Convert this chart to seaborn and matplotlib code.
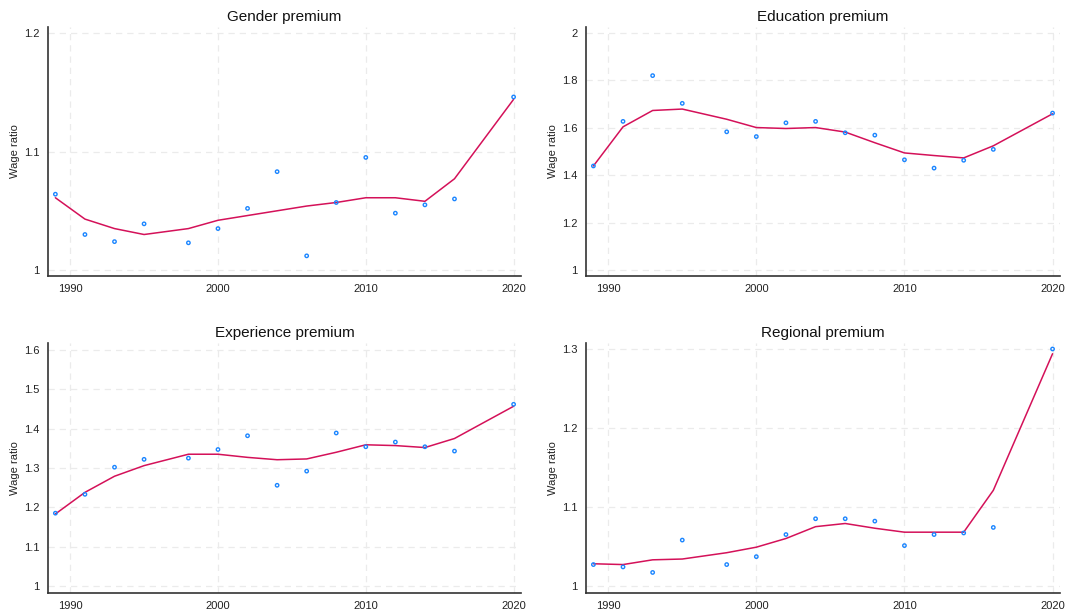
import numpy as np
import pandas as pd
import seaborn as sns
import matplotlib.pyplot as plt

# Survey years
years = [1989, 1991, 1993, 1995, 1998, 2000, 2002, 2004, 2006, 2008, 2010, 2012, 2014, 2016, 2020]

# Observed wage ratios (dots) and smoothed fit (line) for each premium
gender_obs = [1.064, 1.030, 1.024, 1.039, 1.023, 1.035, 1.052, 1.083, 1.012, 1.057, 1.095, 1.048, 1.055, 1.060, 1.146]
gender_fit = [1.061, 1.043, 1.035, 1.030, 1.035, 1.042, 1.046, 1.050, 1.054, 1.057, 1.061, 1.061, 1.058, 1.077, 1.144]

educ_obs = [1.439, 1.627, 1.820, 1.703, 1.583, 1.563, 1.621, 1.627, 1.579, 1.569, 1.465, 1.430, 1.463, 1.509, 1.662]
educ_fit = [1.439, 1.604, 1.673, 1.679, 1.636, 1.601, 1.597, 1.601, 1.582, 1.537, 1.494, 1.483, 1.473, 1.524, 1.659]

exper_obs = [1.185, 1.233, 1.302, 1.322, 1.325, 1.347, 1.382, 1.256, 1.292, 1.389, 1.354, 1.366, 1.354, 1.343, 1.462]
exper_fit = [1.183, 1.238, 1.279, 1.306, 1.335, 1.335, 1.327, 1.321, 1.323, 1.340, 1.359, 1.357, 1.352, 1.375, 1.457]

region_obs = [1.027, 1.024, 1.017, 1.058, 1.027, 1.037, 1.065, 1.085, 1.085, 1.082, 1.051, 1.065, 1.067, 1.074, 1.300]
region_fit = [1.028, 1.027, 1.033, 1.034, 1.042, 1.049, 1.060, 1.075, 1.079, 1.073, 1.068, 1.068, 1.068, 1.121, 1.294]

titles = ["Gender premium", "Education premium", "Experience premium", "Regional premium"]
yticks = [[1, 1.1, 1.2], [1, 1.2, 1.4, 1.6, 1.8, 2], [1, 1.1, 1.2, 1.3, 1.4, 1.5, 1.6], [1, 1.1, 1.2, 1.3]]
ylims = [(0.995, 1.205), (0.975, 2.025), (0.982, 1.618), (0.991, 1.3076)]
xticks = [1990, 2000, 2010, 2020]

sns.set_style("white")
plt.rcParams['font.family'] = ['Liberation Sans', 'DejaVu Sans']

dot_color = "#1A85FF"
line_color = "#D41159"

fig = plt.figure(figsize=(10.76, 6.15), dpi=100)
positions = [
    [0.0446, 0.5512, 0.4396, 0.4049],
    [0.5446, 0.5512, 0.4405, 0.4049],
    [0.0446, 0.0358, 0.4396, 0.4065],
    [0.5446, 0.0358, 0.4405, 0.4065],
]
series = [(gender_obs, gender_fit), (educ_obs, educ_fit), (exper_obs, exper_fit), (region_obs, region_fit)]

for i, (obs, fit) in enumerate(series):
    ax = fig.add_axes(positions[i])
    df = pd.DataFrame({"year": years, "obs": obs, "fit": fit})
    sns.lineplot(data=df, x="year", y="fit", ax=ax, color=line_color, linewidth=1.1, zorder=3)
    sns.scatterplot(data=df, x="year", y="obs", ax=ax, s=6, marker="o",
                    facecolor="none", edgecolor=dot_color, linewidth=1.0, zorder=4)
    ax.set_xlim(1988.5, 2020.5)
    ax.set_ylim(*ylims[i])
    ax.set_xticks(xticks)
    ax.set_yticks(yticks[i])
    ax.set_yticklabels([f"{t:g}" for t in yticks[i]])
    ax.grid(True, linestyle=(0, (5, 4)), color="#ebebeb", linewidth=0.9)
    ax.set_axisbelow(True)
    sns.despine(ax=ax)
    for s in ["left", "bottom"]:
        ax.spines[s].set_color("#333333")
        ax.spines[s].set_linewidth(1.2)
    ax.tick_params(axis="both", direction="out", length=4, width=0.9, color="#333333",
                   labelsize=8, labelcolor="#222222", pad=2)
    ax.set_xlabel("")
    ax.set_ylabel("Wage ratio", fontsize=8, color="#222222", labelpad=3)
    ax.set_title(titles[i], fontsize=11, color="#111111", pad=4)

plt.savefig("out.png", dpi=100)
